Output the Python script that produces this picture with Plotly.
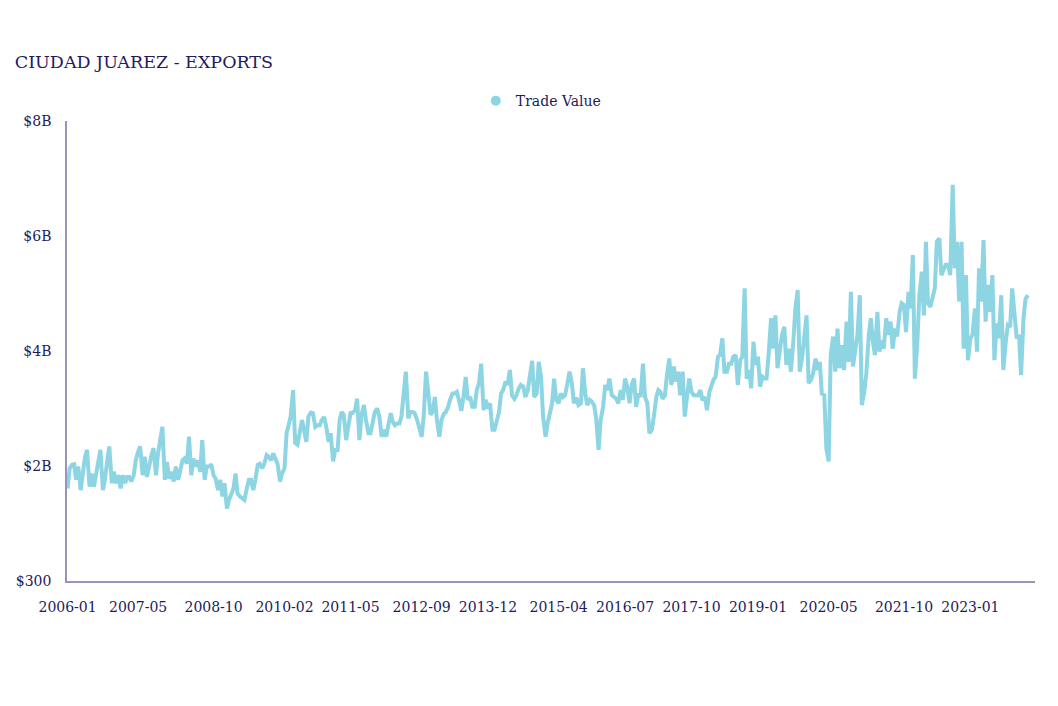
import plotly.graph_objects as go
import pandas as pd

# Export trade value (billions USD), twice-monthly readings starting 2006-01
start_date = "2006-01-01"
trade_value_b = [
    # 2006-01 .. 2010-03 (k0..k102)
    1.61, 1.96, 2.02, 2.03, 1.76, 1.99, 1.58, 1.93, 2.16, 2.28,
    1.64, 1.87, 1.64, 1.84, 2.10, 2.28, 1.58, 1.76, 2.10, 2.34,
    1.70, 1.90, 1.70, 1.84, 1.61, 1.84, 1.70, 1.81, 1.81, 1.73,
    1.84, 2.10, 2.25, 2.34, 1.84, 2.16, 1.81, 2.02, 2.19, 2.31,
    1.84, 2.22, 2.51, 2.68, 1.76, 2.07, 1.78, 1.90, 1.73, 1.99,
    1.76, 1.96, 2.10, 2.13, 2.04, 2.51, 1.84, 2.13, 1.99, 2.10,
    1.90, 2.45, 1.76, 1.99, 1.99, 2.03, 1.84, 1.78, 1.58, 1.76,
    1.47, 1.70, 1.26, 1.41, 1.52, 1.61, 1.87, 1.52, 1.47, 1.44,
    1.41, 1.58, 1.76, 1.76, 1.58, 1.76, 2.02, 2.04, 1.96, 2.04,
    2.19, 2.16, 2.10, 2.22, 2.10, 2.04, 1.73, 1.87, 1.96, 2.57,
    2.71, 2.86, 3.32,
    # k103..k267
    2.40, 2.37, 2.57, 2.80, 2.63, 2.42, 2.86, 2.93, 2.92, 2.68,
    2.71, 2.71, 2.80, 2.85, 2.68, 2.42, 2.57, 2.08, 2.28, 2.28,
    2.80, 2.94, 2.89, 2.45, 2.68, 2.92, 2.92, 2.97, 3.17, 2.45,
    2.89, 3.06, 2.80, 2.57, 2.57, 2.77, 2.94, 3.00, 2.86, 2.51,
    2.63, 2.51, 2.74, 2.92, 2.77, 2.71, 2.74, 2.74, 2.86, 3.32,
    3.64, 2.83, 2.94, 2.94, 2.92, 2.80, 2.68, 2.51, 2.86, 3.64,
    3.32, 2.89, 2.94, 3.20, 2.80, 2.51, 2.80, 2.91, 2.94, 3.02,
    3.15, 3.26, 3.26, 3.29, 3.15, 2.96, 3.20, 3.55, 3.15, 3.20,
    3.03, 3.03, 3.32, 3.45, 3.78, 2.97, 3.15, 3.00, 3.09, 2.63,
    2.63, 2.80, 2.94, 3.26, 3.32, 3.47, 3.41, 3.67, 3.23, 3.17,
    3.23, 3.35, 3.41, 3.38, 3.20, 3.32, 3.55, 3.83, 3.20, 3.26,
    3.81, 3.55, 2.86, 2.51, 2.74, 2.94, 3.09, 3.52, 3.15, 3.09,
    3.26, 3.20, 3.23, 3.44, 3.64, 3.44, 3.09, 3.19, 3.06, 3.09,
    3.70, 3.26, 3.06, 3.15, 3.12, 3.06, 2.83, 2.28, 2.80, 3.03,
    3.41, 3.32, 3.52, 3.23, 3.20, 3.17, 3.09, 3.32, 3.15, 3.52,
    3.38, 3.09, 3.41, 3.52, 3.03, 3.26, 3.20, 3.78, 3.20, 3.09,
    2.57, 2.63, 2.86, 3.20, 3.32,
    # k268..k434
    3.29, 3.17, 3.23, 3.58, 3.87, 3.41, 3.73, 3.47, 3.64, 3.23,
    3.64, 2.86, 3.20, 3.52, 3.29, 3.23, 3.23, 3.23, 3.32, 3.14,
    3.20, 2.97, 3.29, 3.41, 3.50, 3.55, 3.90, 3.93, 4.22, 3.64,
    3.64, 3.78, 3.78, 3.90, 3.93, 3.41, 3.84, 3.90, 5.09, 3.52,
    3.67, 3.35, 4.16, 3.76, 3.90, 3.38, 3.55, 3.52, 3.52, 3.93,
    4.57, 4.04, 4.62, 3.70, 4.10, 4.28, 4.42, 3.76, 4.04, 3.64,
    4.16, 4.74, 5.06, 3.64, 3.90, 4.28, 4.62, 3.44, 3.50, 3.61,
    3.87, 3.67, 3.81, 3.26, 3.23, 2.31, 2.08, 3.93, 4.25, 3.64,
    4.39, 3.70, 4.10, 3.67, 4.51, 3.81, 5.03, 3.73, 4.04, 4.28,
    4.97, 3.06, 3.29, 3.61, 4.28, 4.57, 4.16, 3.93, 4.68, 3.99,
    4.19, 4.04, 4.57, 4.28, 4.51, 4.04, 4.39, 4.25, 4.68, 4.83,
    4.80, 4.33, 5.03, 4.74, 5.67, 3.52, 4.16, 4.97, 5.38, 4.62,
    5.90, 4.83, 4.77, 4.91, 5.09, 5.90, 5.96, 5.32, 5.44, 5.50,
    5.50, 5.32, 6.89, 5.44, 5.90, 4.86, 5.90, 4.04, 5.32, 3.84,
    4.22, 4.28, 4.74, 3.99, 5.44, 4.86, 5.93, 4.51, 5.15, 4.68,
    5.32, 3.84, 4.48, 4.22, 4.97, 3.67, 4.16, 4.45, 4.42, 5.09,
    4.62, 4.22, 4.28, 3.58, 4.57, 4.91, 4.97,
]
ytick_vals = [300, 2e9, 4e9, 6e9, 8e9]
ytick_text = ["$300", "$2B", "$4B", "$6B", "$8B"]
xtick_labels = ["2006-01", "2007-05", "2008-10", "2010-02", "2011-05", "2012-09",
                "2013-12", "2015-04", "2016-07", "2017-10", "2019-01", "2020-05",
                "2021-10", "2023-01"]

dates = pd.date_range(start_date, periods=len(trade_value_b), freq="SMS")
values = [v * 1e9 for v in trade_value_b]

NAVY = "#231a5c"
AXIS = "#9a93bb"
LINE = "#8dd5e2"
FONT = "DejaVu Serif"

fig = go.Figure()
fig.add_trace(go.Scatter(
    x=dates, y=values, mode="lines", name="Trade Value",
    line=dict(color=LINE, width=4),
    showlegend=False,
))
fig.add_trace(go.Scatter(
    x=[None], y=[None], mode="markers", name="Trade Value",
    marker=dict(color=LINE, size=10, symbol="circle"),
))

fig.update_layout(
    width=1058, height=706,
    margin=dict(l=67, r=23, t=121, b=125),
    paper_bgcolor="white", plot_bgcolor="white",
    font=dict(family=FONT, color=NAVY, size=14),
    title=dict(text="CIUDAD JUAREZ - EXPORTS", x=0.014, xanchor="left",
               y=0.912, yanchor="middle",
               font=dict(family=FONT, size=17.5, color=NAVY)),
    legend=dict(orientation="h", x=0.49, xanchor="center", y=1.043, yanchor="middle",
                font=dict(family=FONT, size=14, color=NAVY), itemwidth=30),
    showlegend=True,
)
fig.update_xaxes(
    type="date", range=["2005-12-28", "2024-03-20"],
    tickvals=[pd.Timestamp(t + "-01") for t in xtick_labels],
    ticktext=xtick_labels,
    showgrid=False, zeroline=False,
    showline=True, linecolor=AXIS, linewidth=1.5,
    ticks="", ticklabelstandoff=12,
    tickfont=dict(family=FONT, size=14, color=NAVY),
)
fig.update_yaxes(
    range=[300, 8e9], tickvals=ytick_vals, ticktext=ytick_text,
    showgrid=False, zeroline=False,
    showline=True, linecolor=AXIS, linewidth=1.5,
    ticks="", ticklabelstandoff=11,
    tickfont=dict(family=FONT, size=14, color=NAVY),
)
fig.write_html("out.html")
